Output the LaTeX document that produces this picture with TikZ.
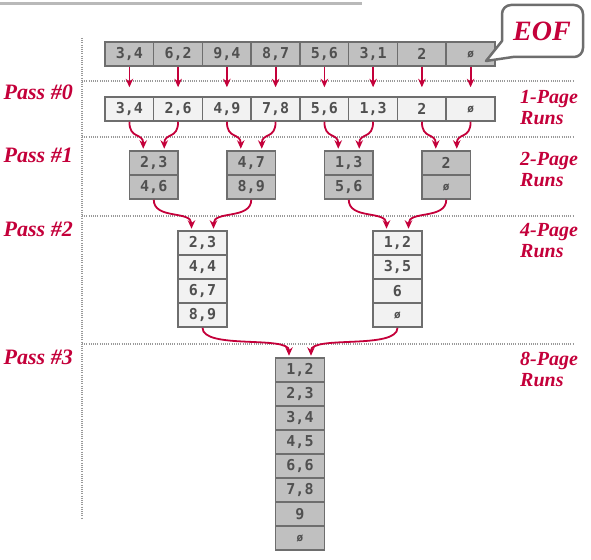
\documentclass[tikz,border=0pt]{standalone}
\usepackage{fontspec}
\setmainfont{Liberation Serif}
\newfontfamily\cellfont{DejaVu Sans Mono}
\usetikzlibrary{arrows.meta}
\definecolor{passred}{HTML}{C4003A}
\definecolor{cellgray}{HTML}{C0C0C0}
\definecolor{celllight}{HTML}{F2F2F2}
\definecolor{cellline}{HTML}{6E6E6E}
\definecolor{celltext}{HTML}{505050}
\newcommand{\emptypg}{{\fontsize{11}{11}\selectfont ø}}

\begin{document}
\begin{tikzpicture}[x=1pt, y=-1pt, >={Stealth[length=8.5pt,width=7.5pt]},
	cell/.style={draw=cellline, line width=1.5pt, minimum width=48.75pt, minimum height=24pt, inner sep=0pt, text=celltext, font=\cellfont\bfseries\fontsize{15}{16}\selectfont},
	dark/.style={cell, fill=cellgray},
	light/.style={cell, fill=celllight},
	runarrow/.style={->, draw=passred, line width=1.8pt},
	passlabel/.style={anchor=base east, inner sep=0pt, text=passred, font=\bfseries\itshape\fontsize{22}{24}\selectfont},
	runlabel/.style={anchor=north west, align=left, inner sep=0pt, text=passred, font=\bfseries\itshape\fontsize{20}{21}\selectfont},
	sepline/.style={draw=gray!80, line width=1.2pt, dash pattern=on 1pt off 1.2pt}]
	\useasboundingbox (0,0) rectangle (591,559);
	\draw[line width=3pt, gray!55] (0,4) -- (362,4);
	% pass separators
	\draw[sepline] (82,38) -- (82,519);
	\draw[sepline] (82,81) -- (573,81);
	\draw[sepline] (82,137) -- (573,137);
	\draw[sepline] (82,216) -- (573,216);
	\draw[sepline] (82,344) -- (573,344);
	% input file
	\node[dark] (in1) at (129.4,54) {3,4};
	\node[dark] (in2) at (178.1,54) {6,2};
	\node[dark] (in3) at (226.9,54) {9,4};
	\node[dark] (in4) at (275.6,54) {8,7};
	\node[dark] (in5) at (324.4,54) {5,6};
	\node[dark] (in6) at (373.1,54) {3,1};
	\node[dark] (in7) at (421.9,54) {2};
	\node[dark] (in8) at (470.6,54) {\emptypg};
	% 1-page runs
	\node[light] (run1) at (129.4,109) {3,4};
	\node[light] (run2) at (178.1,109) {2,6};
	\node[light] (run3) at (226.9,109) {4,9};
	\node[light] (run4) at (275.6,109) {7,8};
	\node[light] (run5) at (324.4,109) {5,6};
	\node[light] (run6) at (373.1,109) {1,3};
	\node[light] (run7) at (421.9,109) {2};
	\node[light] (run8) at (470.6,109) {\emptypg};
	% 2-page runs
	\node[dark] (p1a1) at (153.75,163) {2,3};
	\node[dark] (p1a2) at (153.75,187) {4,6};
	\node[dark] (p1b1) at (251.25,163) {4,7};
	\node[dark] (p1b2) at (251.25,187) {8,9};
	\node[dark] (p1c1) at (348.75,163) {1,3};
	\node[dark] (p1c2) at (348.75,187) {5,6};
	\node[dark] (p1d1) at (446.25,163) {2};
	\node[dark] (p1d2) at (446.25,187) {\emptypg};
	% 4-page runs
	\node[light] (p2a1) at (202.5,243) {2,3};
	\node[light] (p2a2) at (202.5,267) {4,4};
	\node[light] (p2a3) at (202.5,291) {6,7};
	\node[light] (p2a4) at (202.5,315) {8,9};
	\node[light] (p2b1) at (397.5,243) {1,2};
	\node[light] (p2b2) at (397.5,267) {3,5};
	\node[light] (p2b3) at (397.5,291) {6};
	\node[light] (p2b4) at (397.5,315) {\emptypg};
	% 8-page run
	\node[dark] (p3a1) at (300,370) {1,2};
	\node[dark] (p3a2) at (300,394) {2,3};
	\node[dark] (p3a3) at (300,418) {3,4};
	\node[dark] (p3a4) at (300,442) {4,5};
	\node[dark] (p3a5) at (300,466) {6,6};
	\node[dark] (p3a6) at (300,490) {7,8};
	\node[dark] (p3a7) at (300,514) {9};
	\node[dark] (p3a8) at (300,538) {\emptypg};
	% pass 0
	\draw[runarrow, shorten >=9pt] (in1) -- (run1);
	\draw[runarrow, shorten >=9pt] (in2) -- (run2);
	\draw[runarrow, shorten >=9pt] (in3) -- (run3);
	\draw[runarrow, shorten >=9pt] (in4) -- (run4);
	\draw[runarrow, shorten >=9pt] (in5) -- (run5);
	\draw[runarrow, shorten >=9pt] (in6) -- (run6);
	\draw[runarrow, shorten >=9pt] (in7) -- (run7);
	\draw[runarrow, shorten >=9pt] (in8) -- (run8);
	% pass 1
	\draw[runarrow, shorten >=1.5pt] (run1.south) .. controls +(0,18) and +(0,-18) .. ([xshift=-10.5pt]p1a1.north);
	\draw[runarrow, shorten >=1.5pt] (run2.south) .. controls +(0,18) and +(0,-18) .. ([xshift=10.5pt]p1a1.north);
	\draw[runarrow, shorten >=1.5pt] (run3.south) .. controls +(0,18) and +(0,-18) .. ([xshift=-10.5pt]p1b1.north);
	\draw[runarrow, shorten >=1.5pt] (run4.south) .. controls +(0,18) and +(0,-18) .. ([xshift=10.5pt]p1b1.north);
	\draw[runarrow, shorten >=1.5pt] (run5.south) .. controls +(0,18) and +(0,-18) .. ([xshift=-10.5pt]p1c1.north);
	\draw[runarrow, shorten >=1.5pt] (run6.south) .. controls +(0,18) and +(0,-18) .. ([xshift=10.5pt]p1c1.north);
	\draw[runarrow, shorten >=1.5pt] (run7.south) .. controls +(0,18) and +(0,-18) .. ([xshift=-10.5pt]p1d1.north);
	\draw[runarrow, shorten >=1.5pt] (run8.south) .. controls +(0,18) and +(0,-18) .. ([xshift=10.5pt]p1d1.north);
	% pass 2
	\draw[runarrow, shorten >=1.5pt] (p1a2.south) .. controls +(0,20) and +(0,-20) .. ([xshift=-11pt]p2a1.north);
	\draw[runarrow, shorten >=1.5pt] (p1b2.south) .. controls +(0,20) and +(0,-20) .. ([xshift=11pt]p2a1.north);
	\draw[runarrow, shorten >=1.5pt] (p1c2.south) .. controls +(0,20) and +(0,-20) .. ([xshift=-11pt]p2b1.north);
	\draw[runarrow, shorten >=1.5pt] (p1d2.south) .. controls +(0,20) and +(0,-20) .. ([xshift=11pt]p2b1.north);
	% pass 3
	\draw[runarrow, shorten >=1.5pt] (p2a4.south) .. controls +(0,22) and +(0,-22) .. ([xshift=-11pt]p3a1.north);
	\draw[runarrow, shorten >=1.5pt] (p2b4.south) .. controls +(0,22) and +(0,-22) .. ([xshift=11pt]p3a1.north);
	% labels
	\node[passlabel] (pass0) at (73,100) {Pass \#0};
	\node[passlabel] (pass1) at (73,162) {Pass \#1};
	\node[passlabel] (pass2) at (73,236) {Pass \#2};
	\node[passlabel] (pass3) at (73,364) {Pass \#3};
	\node[runlabel] (runs1) at (520,90) {1-Page\\Runs};
	\node[runlabel] (runs2) at (520,152) {2-Page\\Runs};
	\node[runlabel] (runs4) at (520,223) {4-Page\\Runs};
	\node[runlabel] (runs8) at (520,352) {8-Page\\Runs};
	% end of file callout
	\draw[draw=cellline, fill=white, line width=2.5pt, line join=round] (486,61) -- (502,41) [rounded corners=9pt] -- (502,5) -- (583,5) -- (583,57) -- (540,57) [sharp corners] -- (513,57) -- cycle;
	\node[text=passred, font=\bfseries\itshape\fontsize{28}{30}\selectfont] (eof) at (542,31) {EOF};
\end{tikzpicture}
\end{document}
